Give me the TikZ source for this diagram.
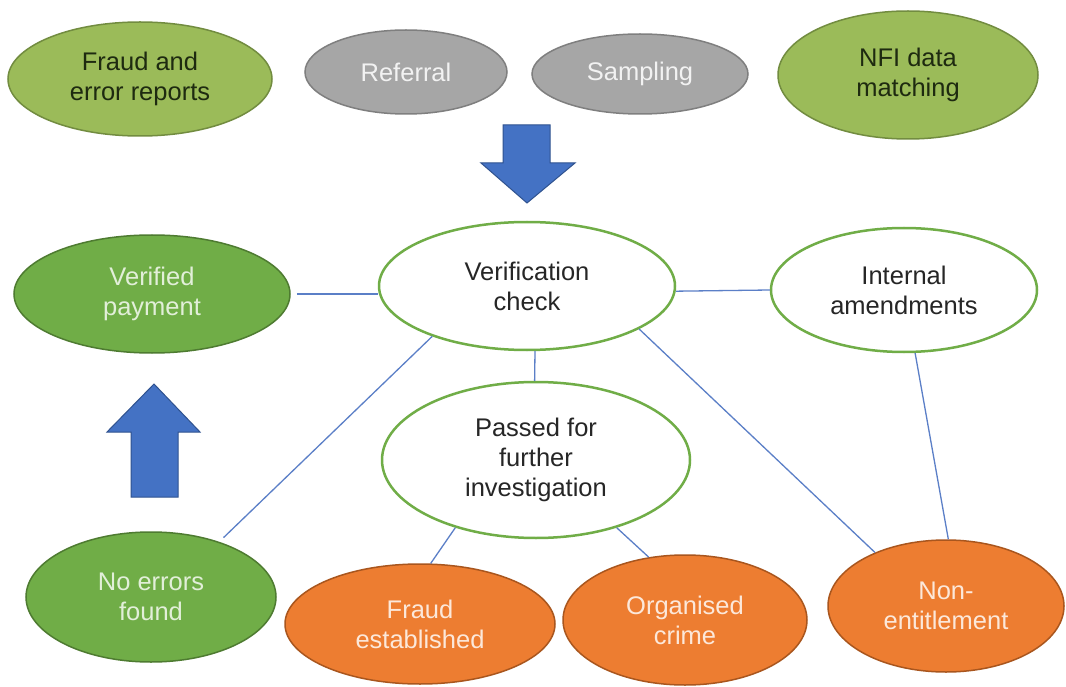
\documentclass[tikz,border=0pt]{standalone}
\usepackage{fontspec}
\setmainfont{Liberation Sans}
\usetikzlibrary{shapes.geometric}
\definecolor{lgfill}{HTML}{9BBB59}
\definecolor{lgdraw}{HTML}{728C40}
\definecolor{lgtext}{HTML}{1E2A10}
\definecolor{gyfill}{HTML}{A6A6A6}
\definecolor{gydraw}{HTML}{7F7F7F}
\definecolor{gytext}{HTML}{F2F2F2}
\definecolor{dgfill}{HTML}{70AD47}
\definecolor{dgdraw}{HTML}{4E7B31}
\definecolor{dgtext}{HTML}{E2EFD9}
\definecolor{orfill}{HTML}{ED7D31}
\definecolor{ordraw}{HTML}{A9561E}
\definecolor{ortext}{HTML}{FCE8DA}
\definecolor{wtdraw}{HTML}{70AD47}
\definecolor{wttext}{HTML}{262626}
\definecolor{conn}{HTML}{5B7FC7}
\definecolor{arfill}{HTML}{4472C4}
\definecolor{ardraw}{HTML}{2F528F}
\tikzset{
  oval/.style={ellipse, inner sep=0pt, align=center,
    font=\fontsize{25.5}{30}\selectfont},
  lightgreen/.style={oval, fill=lgfill, draw=lgdraw, line width=1.5pt, text=lgtext},
  greyoval/.style={oval, fill=gyfill, draw=gydraw, line width=1.5pt, text=gytext},
  darkgreen/.style={oval, fill=dgfill, draw=dgdraw, line width=1.5pt, text=dgtext},
  orangeoval/.style={oval, fill=orfill, draw=ordraw, line width=1.5pt, text=ortext},
  whiteoval/.style={oval, fill=white, draw=wtdraw, line width=2.5pt, text=wttext},
  link/.style={draw=conn, line width=1.3pt},
  bigarrow/.style={fill=arfill, draw=ardraw, line width=1pt, line join=miter}
}
\begin{document}
\begin{tikzpicture}[x=1pt,y=-1pt]
\useasboundingbox[fill=white] (0,0) rectangle (1066,687);

% top row
\node[lightgreen, minimum width=264pt, minimum height=114pt] (fer) at (140,79) {Fraud and\\error reports};
\node[greyoval, minimum width=202pt, minimum height=84pt] (ref) at (406,72) {Referral};
\node[greyoval, minimum width=216pt, minimum height=80pt] (smp) at (640,74) {Sampling};
\node[lightgreen, minimum width=260pt, minimum height=128pt] (nfi) at (908,75) {NFI data\\matching};

% middle
\node[darkgreen, minimum width=276pt, minimum height=118pt] (vp) at (152,294) {Verified\\payment};
\node[whiteoval, minimum width=296pt, minimum height=128pt] (vc) at (527,286) {Verification\\check};
\node[whiteoval, minimum width=266pt, minimum height=124pt] (ia) at (904,290) {Internal\\amendments};
\node[whiteoval, minimum width=308pt, minimum height=156pt] (ps) at (536,460) {Passed for\\further\\investigation};

% bottom
\node[darkgreen, minimum width=250pt, minimum height=130pt] (ne) at (151,597) {No errors\\found};
\node[orangeoval, minimum width=270pt, minimum height=120pt] (fe) at (420,624) {Fraud\\established};
\node[orangeoval, minimum width=244pt, minimum height=130pt] (oc) at (685,620) {Organised\\crime};
\node[orangeoval, minimum width=236pt, minimum height=132pt] (nt) at (946,606) {Non-\\entitlement};

% connectors
\draw[link] ([xshift=6pt]vp.east) -- (vp.east -| vc.west);
\draw[link] (vc.358) -- (ia.180);
\draw[link] (vc.277) -- (ps.91);
\draw[link, shorten >=6pt] (vc.208) -- (ne.39);
\draw[link] (vc.339) -- (nt.143);
\draw[link] (ia.280) -- (nt.88);
\draw[link] (ps.220) -- (fe.80);
\draw[link] (ps.320) -- (oc.120);

% block arrows
\draw[bigarrow] (503,125) -- (550,125) -- (550,163) -- (575,163) -- (527,203) -- (481,163) -- (503,163) -- cycle;
\draw[bigarrow] (154,384) -- (200,432) -- (178,432) -- (178,497) -- (131,497) -- (131,432) -- (107,432) -- cycle;
\end{tikzpicture}
\end{document}
